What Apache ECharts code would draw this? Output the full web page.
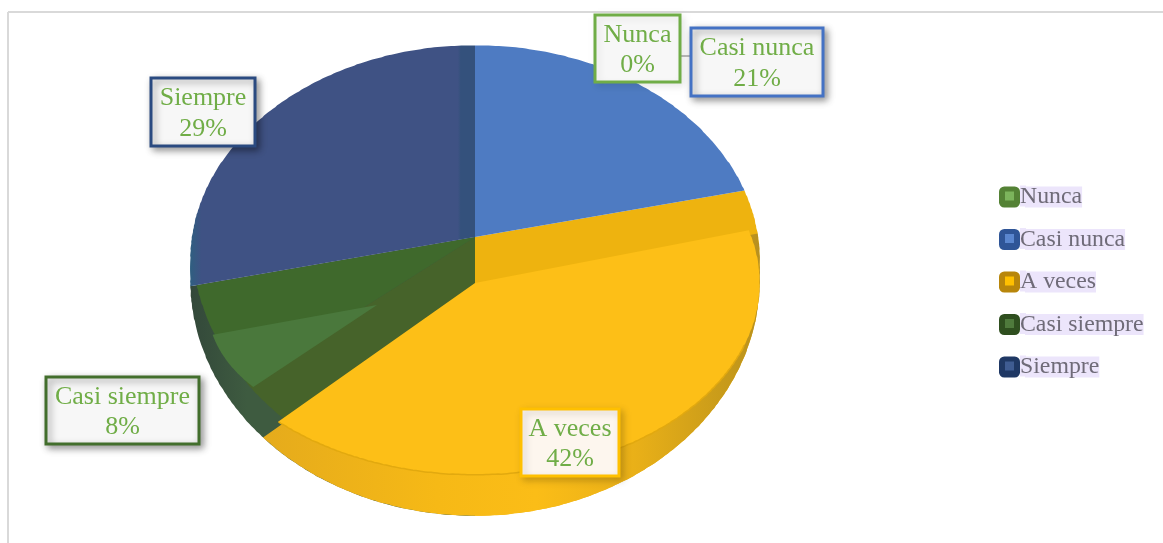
<!DOCTYPE html>
<html><head><meta charset="utf-8">
<style>html,body{margin:0;padding:0;background:#fff}#c{width:1163px;height:543px}</style>
<script src="https://cdn.jsdelivr.net/npm/echarts@6/dist/echarts.min.js"></script>
</head><body><div id="c"></div>
<script>
const categories = ['Nunca', 'Casi nunca', 'A veces', 'Casi siempre', 'Siempre'];
const values = [0, 21, 42, 8, 29];
const percentLabels = ['0%', '21%', '42%', '8%', '29%'];
const borderColors = ['#70ad47', '#4472c4', '#ffc000', '#426e2c', '#2a4a80'];
const legendOuter = ['#548235', '#2f5597', '#b8860b', '#2f4f1f', '#1f3864'];
const legendInner = ['#7cb45c', '#5a86cf', '#ffc000', '#4f7a3c', '#3f5c92'];
const labelBoxes = [[595, 15, 85, 67], [691, 28, 132, 68], [521, 409, 98, 67], [46, 377, 153, 67], [151, 78, 104, 68]];
const labelShadows = [0.08, 0.38, 0.18, 0.38, 0.38];

const CX = 475, RX = 285, RY = 192, APEX_TOP = 237, APEX_YELLOW = 283, APEX_WALL = 288, RY_YELLOW_DIR = 214;
const LEGEND_X = 999, LEGEND_TOP = 185, LEGEND_STEP = 42.5, LEGEND_SIZE = 21;
const total = values.reduce((a, b) => a + b, 0);
const angles = []; let acc = 0;
values.forEach(v => { angles.push([acc / total * 2 * Math.PI, (acc + v) / total * 2 * Math.PI]); acc += v; });

function inEll(x, y, cy, rx, ry) { const a = (x - CX) / rx, b = (y - cy) / ry; return a * a + b * b <= 1; }
function inSil(x, y) {
  if (y < 260) return inEll(x, y, 260, RX, 215);
  if (y > 280) return inEll(x, y, 280, RX, 236);
  return Math.abs(x - CX) <= RX;
}
function wedge(ax, ay, rx, ry, a0, a1, lim) {
  const pts = [[ax, ay]], n = Math.max(2, Math.ceil((a1 - a0) / 0.012));
  for (let i = 0; i <= n; i++) {
    const a = a0 + (a1 - a0) * i / n, dx = rx * Math.sin(a), dy = -ry * Math.cos(a);
    let t = 0;
    while (t < 3 && lim(ax + (t + 0.002) * dx, ay + (t + 0.002) * dy, t + 0.002)) t += 0.002;
    pts.push([ax + t * dx, ay + t * dy]);
  }
  return pts;
}
const poly = (points, fill, z2) => ({ type: 'polygon', z2, shape: { points }, style: { fill } });
const hGrad = (stops) => new echarts.graphic.LinearGradient(0, 0, 1, 0, stops.map(s => ({ offset: s[0], color: s[1] })));
const wallLim = (x, y) => inSil(x, y) && inEll(x, y, APEX_TOP, 284, 246);

function slicePieces(i) {
  const [a0, a1] = angles[i];
  if (values[i] === 0) return [];
  if (i === 1) return [poly(wedge(CX, APEX_TOP, RX, RY, a0, a1, inSil), '#4e7bc2', 6)];
  if (i === 4) return [poly(wedge(CX, APEX_TOP, RX, RY, a0, a1, inSil),
    hGrad([[0, '#2f5f80'], [0.04, '#3f5284'], [0.94, '#3f5284'], [0.95, '#34517c'], [1, '#34517c']]), 6)];
  if (i === 2) {
    const topLim = (x, y) => inEll(x, y, APEX_YELLOW, RX, RY) && inSil(x, y);
    const top = wedge(CX, APEX_YELLOW, RX, RY_YELLOW_DIR, a0, a1, topLim);
    const seam = wedge(CX, APEX_YELLOW, RX, RY_YELLOW_DIR, a0 + 0.55, a1, topLim).slice(1);
    return [
      poly(wedge(CX, APEX_TOP, RX, RY, a0, Math.PI, inSil), '#eeb30f', 2),
      poly(wedge(CX, APEX_WALL, RX, RY_YELLOW_DIR, a0, a1, inSil),
        hGrad([[0, '#e5ab1c'], [0.35, '#f6b916'], [0.55, '#fbbd17'], [0.75, '#e9b018'], [0.95, '#c4981a'], [1, '#b79020']]), 3),
      poly(top, '#fdbf17', 4),
      { type: 'polyline', z2: 5, shape: { points: seam }, style: { fill: null, stroke: '#e2a90f', lineWidth: 1.5 } }
    ];
  }
  // Casi siempre: the wedge sits between its neighbours, showing two inner walls and a raised top
  return [
    poly(wedge(CX, APEX_TOP, RX, RY, Math.PI, a1, inSil), hGrad([[0, '#33483a'], [0.2, '#3e5b40'], [1, '#3e5b40']]), 1),
    poly(wedge(CX, APEX_TOP, RX, RY, Math.PI, a0, wallLim), '#46632a', 1.5),
    poly(wedge(CX, APEX_TOP, RX, RY, a0, a1, wallLim), '#3f692c', 1.6),
    poly(wedge(377, 305, 170, 120, a0, a1, (x, y, t) => t <= 1), '#4a783c', 1.8)
  ];
}
function labelPieces(i) {
  const [x, y, w, h] = labelBoxes[i];
  const out = [
    { type: 'rect', z2: 20, shape: { x, y, width: w, height: h },
      style: { fill: i === 2 ? '#fdf6ee' : '#f7f7f7', stroke: borderColors[i], lineWidth: 3,
        shadowBlur: 7, shadowOffsetX: 3, shadowOffsetY: 3, shadowColor: 'rgba(0,0,0,' + labelShadows[i] + ')' } },
    { type: 'text', z2: 21, style: { x: x + w / 2, y: y + h / 2 + 1.5, text: categories[i] + '\n' + percentLabels[i],
      fill: '#70ad47', font: '26px "Liberation Serif"', align: 'center', verticalAlign: 'middle', lineHeight: 30.5 } }
  ];
  if (i === 0) out.push({ type: 'line', z2: 19, shape: { x1: x + w, y1: 56, x2: x + w + 12, y2: 56 }, style: { stroke: '#bdbdbd', lineWidth: 2 } });
  return out;
}

const series = categories.map((name, i) => ({
  type: 'custom', name, coordinateSystem: 'none', silent: true, animation: false,
  data: [values[i]],
  renderItem: () => ({ type: 'group', children: slicePieces(i).concat(labelPieces(i)) })
}));
const legendData = categories.map((name, i) => ({ name, icon: 'roundRect', itemStyle: { color: legendOuter[i] } }));
const legendExtras = [];
categories.forEach((name, i) => {
  const cy = LEGEND_TOP + 11 + i * LEGEND_STEP;
  legendExtras.push({ type: 'rect', z: 1, shape: { x: LEGEND_X + LEGEND_SIZE, y: cy - 10.5, width: 6, height: 21 }, style: { fill: '#ece5fb' } });
  legendExtras.push({ type: 'rect', z: 6, shape: { x: LEGEND_X + 6, y: cy - 4.5, width: 9, height: 9 }, style: { fill: legendInner[i] } });
});

const chart = echarts.init(document.getElementById('c'), null, { renderer: 'canvas' });
chart.setOption({
  backgroundColor: '#fff', animation: false,
  legend: { orient: 'vertical', left: LEGEND_X, top: LEGEND_TOP, padding: 0, itemWidth: LEGEND_SIZE, itemHeight: LEGEND_SIZE, itemGap: 18.5,
    selectedMode: false, data: legendData,
    textStyle: { color: '#6f6b78', fontFamily: 'Liberation Serif', fontSize: 23.8, backgroundColor: '#ece5fb',
      lineHeight: 21, padding: [0, 0, 0, -5] } },
  graphic: [
    { type: 'line', shape: { x1: 8, y1: 12, x2: 1163, y2: 12 }, style: { stroke: '#d9d9d9', lineWidth: 2 } },
    { type: 'line', shape: { x1: 8, y1: 12, x2: 8, y2: 543 }, style: { stroke: '#d9d9d9', lineWidth: 2 } }
  ].concat(legendExtras),
  series
});
</script></body></html>
